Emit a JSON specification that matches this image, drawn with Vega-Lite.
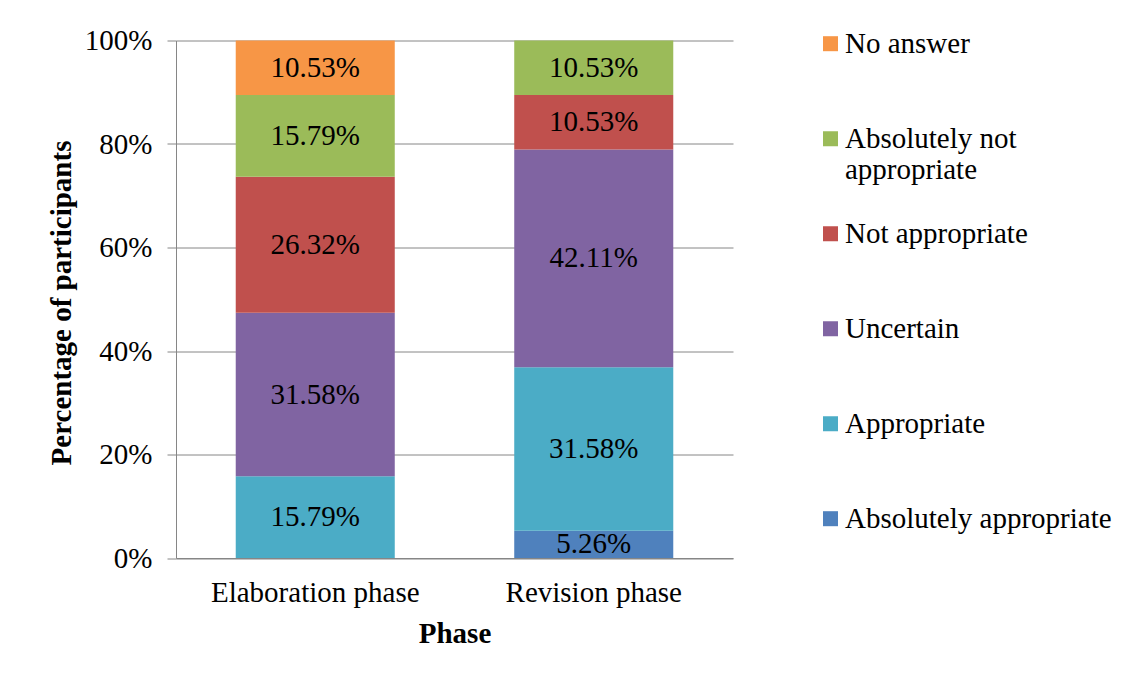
{
  "$schema": "https://vega.github.io/schema/vega-lite/v6.json",
  "width": 557,
  "height": 517.5,
  "autosize": {"type": "none"},
  "padding": {"left": 176, "top": 40.5, "right": 394, "bottom": 119},
  "background": "white",
  "config": {"font": "Liberation Serif", "view": {"stroke": null}},
  "data": {
    "values": [
      {"phase": "Elaboration phase", "response": "Appropriate", "value": 0.1579},
      {"phase": "Elaboration phase", "response": "Uncertain", "value": 0.3158},
      {"phase": "Elaboration phase", "response": "Not appropriate", "value": 0.2632},
      {"phase": "Elaboration phase", "response": "Absolutely not appropriate", "value": 0.1579},
      {"phase": "Elaboration phase", "response": "No answer", "value": 0.1053},
      {"phase": "Revision phase", "response": "Absolutely appropriate", "value": 0.0526},
      {"phase": "Revision phase", "response": "Appropriate", "value": 0.3158},
      {"phase": "Revision phase", "response": "Uncertain", "value": 0.4211},
      {"phase": "Revision phase", "response": "Not appropriate", "value": 0.1053},
      {"phase": "Revision phase", "response": "Absolutely not appropriate", "value": 0.1053}
    ]
  },
  "transform": [
    {"calculate": "indexof(['Absolutely appropriate','Appropriate','Uncertain','Not appropriate','Absolutely not appropriate','No answer'], datum.response)", "as": "o"},
    {"stack": "value", "groupby": ["phase"], "sort": [{"field": "o", "order": "ascending"}], "as": ["v0", "v1"]},
    {"calculate": "(datum.v0 + datum.v1) / 2", "as": "mid"}
  ],
  "encoding": {
    "x": {
      "field": "phase",
      "type": "nominal",
      "title": "Phase",
      "scale": {"paddingInner": 0.429, "paddingOuter": 0.2145},
      "axis": {
        "labelAngle": 0,
        "ticks": false,
        "grid": false,
        "domainColor": "#868686",
        "labelFont": "Liberation Serif",
        "labelFontSize": 29,
        "labelColor": "black",
        "labelPadding": 20,
        "labelLimit": 0,
        "titleFont": "Liberation Serif",
        "titleFontSize": 29,
        "titleFontWeight": "bold",
        "titleColor": "black",
        "titleBaseline": "alphabetic",
        "titleX": 278.5,
        "titleY": 84
      }
    }
  },
  "layer": [
    {
      "mark": {"type": "bar"},
      "encoding": {
        "y": {
          "field": "v0",
          "type": "quantitative",
          "title": "Percentage of participants",
          "scale": {"domain": [0, 1], "nice": false},
          "axis": {
            "values": [0, 0.2, 0.4, 0.6, 0.8, 1],
            "format": ".0%",
            "grid": true,
            "gridColor": "#868686",
            "domainColor": "#868686",
            "tickColor": "#868686",
            "tickSize": 9,
            "labelFont": "Liberation Serif",
            "labelFontSize": 29,
            "labelColor": "black",
            "labelPadding": 15,
            "titleFont": "Liberation Serif",
            "titleFontSize": 29,
            "titleFontWeight": "bold",
            "titleColor": "black",
            "titleAngle": 270,
            "titleBaseline": "alphabetic",
            "titleAlign": "center",
            "titleX": -106,
            "titleY": 262
          }
        },
        "y2": {"field": "v1"},
        "color": {
          "field": "response",
          "type": "nominal",
          "scale": {
            "domain": ["No answer", "Absolutely not appropriate", "Not appropriate", "Uncertain", "Appropriate", "Absolutely appropriate"],
            "range": ["#F79646", "#9BBB59", "#C0504D", "#8064A2", "#4BACC6", "#4F81BD"]
          },
          "legend": {
            "title": null,
            "orient": "none",
            "legendX": 640,
            "legendY": -44.15,
            "padding": 0,
            "symbolType": "square",
            "symbolSize": 225,
            "symbolStrokeWidth": 0,
            "labelFont": "Liberation Serif",
            "labelFontSize": 29,
            "labelColor": "black",
            "labelBaseline": "alphabetic",
            "labelOffset": 0,
            "labelLimit": 400,
            "clipHeight": 94.7,
            "rowPadding": 0,
            "labelExpr": "datum.label == 'Absolutely not appropriate' ? ['Absolutely not', 'appropriate'] : datum.label",
            "encode": {"labels": {"update": {"dy": {"value": 9}}}}
          }
        }
      }
    },
    {
      "mark": {"type": "text", "font": "Liberation Serif", "fontSize": 29, "baseline": "middle", "color": "black"},
      "encoding": {
        "y": {"field": "mid", "type": "quantitative", "title": "Percentage of participants"},
        "text": {"field": "value", "type": "quantitative", "format": ".2%"}
      }
    }
  ]
}
